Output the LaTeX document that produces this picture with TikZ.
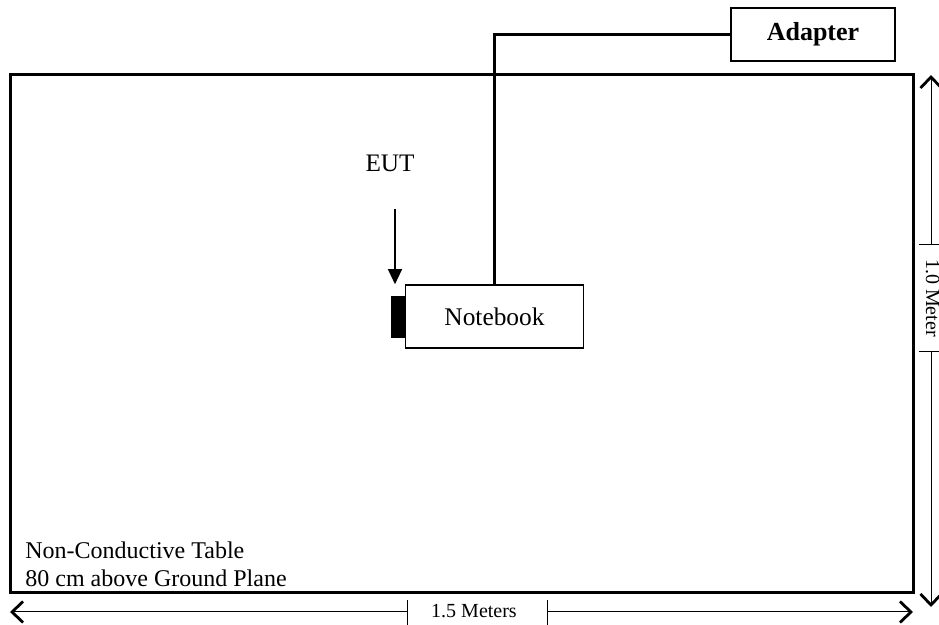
\documentclass[tikz,border=0pt]{standalone}
\usepackage{fontspec}
\setmainfont{Liberation Serif}
\usetikzlibrary{arrows.meta}
\usetikzlibrary{math}

\tikzset{
  barb/.tip={Straight Barb[length=5.5pt,width=10.5pt,line width=1.4pt]},
  dimline/.style={line width=0.5pt},
  dimtext/.style={font=\fontsize{10}{12}\selectfont, inner sep=0pt},
  lbl/.style={font=\fontsize{12.6}{15}\selectfont, inner sep=0pt},
  unitbox/.style={draw, fill=white, inner sep=0pt},
}

\begin{document}
\begin{tikzpicture}[x=0.5pt, y=-0.5pt]

\tikzmath{
\tl = 10; \tr = 913; % table left / right
\tt = 75; \tb = 593; % table top / bottom
\dy = 612; % horizontal dimension line
\dx = 931; % vertical dimension line
}

\useasboundingbox (0,0) rectangle (939,625);

%table:
\draw[line width=1.5pt] (\tl,\tt) rectangle (\tr,\tb);
\node[lbl, font=\fontsize{12}{14}\selectfont, anchor=base west] (tab1) at (25,559) {Non-Conductive Table};
\node[lbl, font=\fontsize{12}{14}\selectfont, anchor=base west] (tab2) at (25,587) {80 cm above Ground Plane};

%notebook and adapter:
\node[unitbox, line width=0.8pt, minimum width=89pt, minimum height=31.5pt,
      font=\fontsize{12.7}{15}\selectfont] (nb) at (494.5,316.5) {Notebook};
\node[draw, fill=black, minimum width=6.5pt, minimum height=20.5pt, inner sep=0pt,
      anchor=east] (port) at (nb.west) {};
\node[unitbox, line width=1pt, minimum width=82pt, minimum height=26.5pt,
      font=\bfseries\fontsize{13}{15}\selectfont] (ad) at (813,34.5) {Adapter};
\draw[line width=1.7pt] (nb.north) |- (ad.west);

%EUT:
\node[lbl, anchor=base] (eut) at (390,172) {EUT};
\coordinate (eutstart) at (395,209);
\draw[line width=0.6pt, -{Triangle[length=7.5pt,width=7pt]}] (eutstart) -- (eutstart |- nb.north);

%1.5 Meters:
\node[dimtext, anchor=base] (wtext) at (474,618) {1.5 Meters};
\coordinate (wl) at (\tl,\dy);
\coordinate (wr) at (\tr,\dy);
\coordinate (wa) at (407,\dy);
\coordinate (wb) at (547,\dy);
\draw[dimline, barb-] (wl) -- (wa);
\draw[dimline, -barb] (wb) -- (wr);
\draw[dimline] (wa |- 0,600) -- (wa |- 0,625) (wb |- 0,600) -- (wb |- 0,625);

%1.0 Meter:
\node[dimtext, rotate=-90, anchor=base] (htext) at (926,298) {1.0 Meter};
\coordinate (ht) at (\dx,\tt);
\coordinate (hb) at (\dx,607);
\coordinate (ha) at (\dx,245);
\coordinate (hc) at (\dx,352);
\draw[dimline, barb-] (ht) -- (ha);
\draw[dimline, -barb] (hc) -- (hb);
\draw[dimline] (919,245) -- (939,245) (919,352) -- (939,352);

\end{tikzpicture}
\end{document}
